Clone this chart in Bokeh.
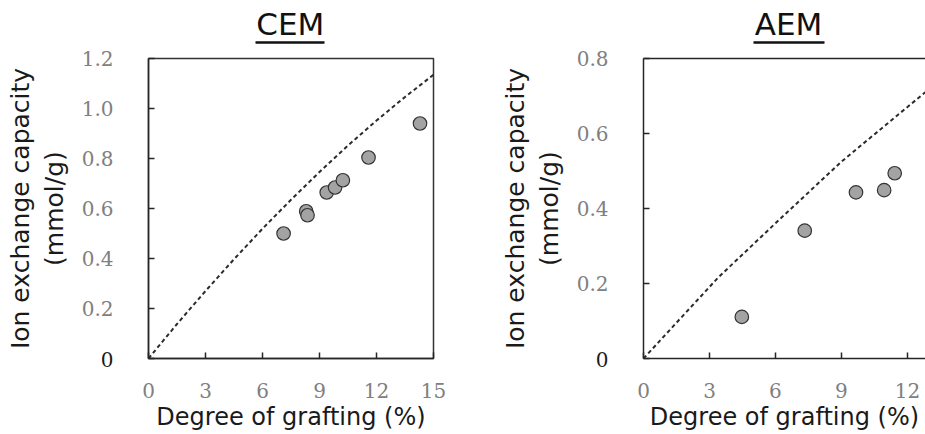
from bokeh.plotting import figure
from bokeh.layouts import row
from bokeh.models import (Range1d, FixedTicker, LinearAxis, PrintfTickFormatter, Label)
from bokeh.embed import file_html
from bokeh.resources import INLINE

# ---- data ----
cem_graft = [7.11, 8.30, 8.37, 9.38, 9.82, 10.23, 11.58, 14.29]
cem_iec = [0.500, 0.589, 0.573, 0.664, 0.684, 0.713, 0.804, 0.940]
cem_theory_x = [0, 1.5, 3, 4.5, 6, 7.5, 9, 10.5, 12, 13.5, 15]
cem_theory_y = [0, 0.138, 0.270, 0.397, 0.519, 0.635, 0.746, 0.852, 0.952, 1.046, 1.135]

aem_graft = [4.47, 7.33, 9.66, 10.94, 11.42]
aem_iec = [0.111, 0.341, 0.443, 0.449, 0.494]
aem_theory_x = [0, 3.38, 6.15, 9.0, 12.83, 13.2]
aem_theory_y = [0, 0.215, 0.369, 0.525, 0.711, 0.728]

cem_xticks = [0, 3, 6, 9, 12, 15]
cem_yticks = [0, 0.2, 0.4, 0.6, 0.8, 1.0, 1.2]
aem_xticks = [0, 3, 6, 9, 12]
aem_yticks = [0, 0.2, 0.4, 0.6, 0.8]

XLABEL = "Degree of grafting (%)"
YLABEL = "Ion exchange capacity\n(mmol/g)"

SANS = "DejaVu Sans"
SERIF = "DejaVu Serif"
TICK_GRAY = "#808080"
DARK = "#262626"


def style(p, xticks, yticks):
    p.xgrid.visible = False
    p.ygrid.visible = False
    p.background_fill_color = "white"
    p.border_fill_color = "white"
    for ax in (p.xaxis[0], p.yaxis[0]):
        ax.axis_line_color = DARK
        ax.axis_line_width = 1.5
        ax.major_tick_line_color = DARK
        ax.major_tick_line_width = 1.5
        ax.major_tick_in = 6
        ax.major_tick_out = 0
        ax.minor_tick_line_color = None
        ax.major_label_text_font = SERIF
        ax.major_label_text_font_size = "20px"
        ax.major_label_text_color = TICK_GRAY
        ax.axis_label_text_font = SANS
        ax.axis_label_text_font_style = "normal"
        ax.axis_label_text_color = "#1a1a1a"
    p.xaxis[0].axis_label_text_font_size = "24px"
    p.yaxis[0].axis_label_text_font_size = "25px"
    p.xaxis[0].ticker = FixedTicker(ticks=xticks)
    p.yaxis[0].ticker = FixedTicker(ticks=yticks)
    p.yaxis[0].formatter = PrintfTickFormatter(format="%.1f")
    p.yaxis[0].major_label_overrides = {0: ""}
    p.xaxis[0].axis_label = XLABEL
    p.yaxis[0].axis_label = YLABEL
    p.yaxis[0].axis_label_text_line_height = 1.15
    p.xaxis[0].major_label_standoff = 24
    p.xaxis[0].axis_label_standoff = 2
    p.yaxis[0].major_label_standoff = 35
    p.yaxis[0].axis_label_standoff = 10


def top_stack(p, border_color, text, x0, x1):
    # first "above" axis: frame top border (or invisible) + 16px spacer via tick length
    spacer = LinearAxis(ticker=FixedTicker(ticks=[x0]), major_label_overrides={x0: ""},
                        axis_line_color=border_color, axis_line_width=1.5,
                        major_tick_line_alpha=0, minor_tick_line_color=None,
                        major_tick_in=0, major_tick_out=16, major_label_standoff=0,
                        major_label_text_font_size="1px")
    p.add_layout(spacer, "above")
    # second "above" axis: underlined panel title (axis rule = underline)
    mid = round((x0 + x1) / 2, 3)
    t = LinearAxis(bounds=(x0, x1), ticker=FixedTicker(ticks=[mid]),
                   major_label_overrides={mid: text},
                   axis_line_color="#111111", axis_line_width=2.5,
                   major_tick_line_color=None, minor_tick_line_color=None,
                   major_tick_in=0, major_tick_out=0, major_label_standoff=1,
                   major_label_text_font=SANS, major_label_text_font_size="31px",
                   major_label_text_color="#111111")
    p.add_layout(t, "above")


def zero_label(p, x, side):
    p.add_layout(Label(x=x, y=359, x_units="canvas", y_units="canvas", text="0",
                       text_align="right", text_baseline="middle", text_font=SERIF,
                       text_font_size="20px", text_color="#1a1a1a"), side)


# ---- CEM ----
p1 = figure(width=460, height=434, x_range=Range1d(0, 15), y_range=Range1d(0, 1.2),
            output_backend="svg", toolbar_location=None,
            min_border_left=148, min_border_right=27, min_border_top=58,
            min_border_bottom=76)
p1.outline_line_color = "#333333"
p1.outline_line_width = 1.5
style(p1, cem_xticks, cem_yticks)
p1.line(cem_theory_x, cem_theory_y, line_color="#2b2b2b", line_width=2,
        line_dash="4 3")
p1.scatter(cem_graft, cem_iec, size=13.5, fill_color="#a3a3a3",
           line_color="#333333", line_width=1.2)
top_stack(p1, None, "CEM", 5.65, 9.28)
zero_label(p1, 113, "right")

# ---- AEM ----
p2 = figure(width=465, height=434, x_range=Range1d(0, 12.82), y_range=Range1d(0, 0.8),
            output_backend="svg", toolbar_location=None,
            min_border_left=183, min_border_right=0, min_border_top=58,
            min_border_bottom=76)
p2.outline_line_color = None
style(p2, aem_xticks, aem_yticks)
p2.line(aem_theory_x, aem_theory_y, line_color="#2b2b2b", line_width=2,
        line_dash="4 3")
p2.scatter(aem_graft, aem_iec, size=13.5, fill_color="#a3a3a3",
           line_color="#333333", line_width=1.2)
top_stack(p2, DARK, "AEM", 4.98, 8.21)
zero_label(p2, 148, "left")

layout = row(p1, p2)
open("out.html", "w").write(file_html(layout, INLINE))
